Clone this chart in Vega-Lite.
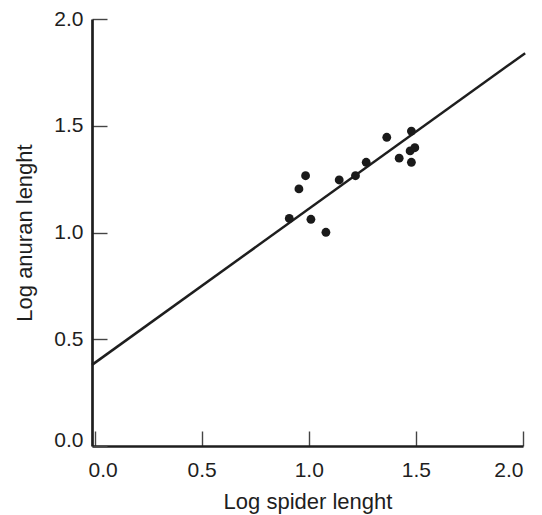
{
  "$schema": "https://vega.github.io/schema/vega-lite/v6.json",
  "autosize": {"type": "none"},
  "padding": {"left": 92, "top": 19, "right": 19, "bottom": 69},
  "width": 431,
  "height": 427,
  "background": "white",
  "config": {
    "view": {"stroke": null},
    "font": "Liberation Sans",
    "axis": {
      "grid": false,
      "domainColor": "#1e1e1e",
      "domainWidth": 2.7,
      "tickColor": "#444",
      "tickWidth": 1.4,
      "tickSize": -15,
      "labelFontSize": 21,
      "labelColor": "#1e1e1e",
      "titleFontSize": 22,
      "titleFontWeight": "normal",
      "titleColor": "#1e1e1e",
      "titleBaseline": "alphabetic"
    }
  },
  "datasets": {
    "points": [
      {"spider": 0.909, "anuran": 1.066},
      {"spider": 1.010, "anuran": 1.062},
      {"spider": 1.080, "anuran": 1.001},
      {"spider": 0.954, "anuran": 1.204},
      {"spider": 0.985, "anuran": 1.266},
      {"spider": 1.142, "anuran": 1.246},
      {"spider": 1.218, "anuran": 1.266},
      {"spider": 1.268, "anuran": 1.329},
      {"spider": 1.364, "anuran": 1.446},
      {"spider": 1.479, "anuran": 1.475},
      {"spider": 1.422, "anuran": 1.348},
      {"spider": 1.473, "anuran": 1.382},
      {"spider": 1.495, "anuran": 1.397},
      {"spider": 1.479, "anuran": 1.329}
    ],
    "fit": [
      {"spider": -0.012, "anuran": 0.38},
      {"spider": 2.01, "anuran": 1.84}
    ]
  },
  "layer": [
    {
      "data": {"name": "fit"},
      "mark": {"type": "line", "color": "#1e1e1e", "strokeWidth": 2.5, "clip": false},
      "encoding": {
        "x": {
          "field": "spider", "type": "quantitative",
          "scale": {"domain": [-0.012, 2], "nice": false, "zero": false},
          "axis": {
            "title": "Log spider lenght",
            "values": [0, 0.5, 1, 1.5, 2],
            "format": ".1f",
            "labelPadding": 28,
            "labelOffset": {"condition": {"test": "datum.value == 0", "value": 8}, "value": 0},
            "titleY": 62
          }
        },
        "y": {
          "field": "anuran", "type": "quantitative",
          "scale": {"domain": [0, 2], "nice": false, "zero": false},
          "axis": {
            "title": "Log anuran lenght",
            "values": [0, 0.5, 1, 1.5, 2],
            "format": ".1f",
            "labelPadding": 24,
            "labelOffset": {"condition": {"test": "datum.value == 0", "value": -6}, "value": 0},
            "titleX": -61
          }
        }
      }
    },
    {
      "data": {"name": "points"},
      "mark": {"type": "circle", "color": "#1a1a1a", "opacity": 1, "size": 78},
      "encoding": {
        "x": {"field": "spider", "type": "quantitative"},
        "y": {"field": "anuran", "type": "quantitative"}
      }
    }
  ]
}
